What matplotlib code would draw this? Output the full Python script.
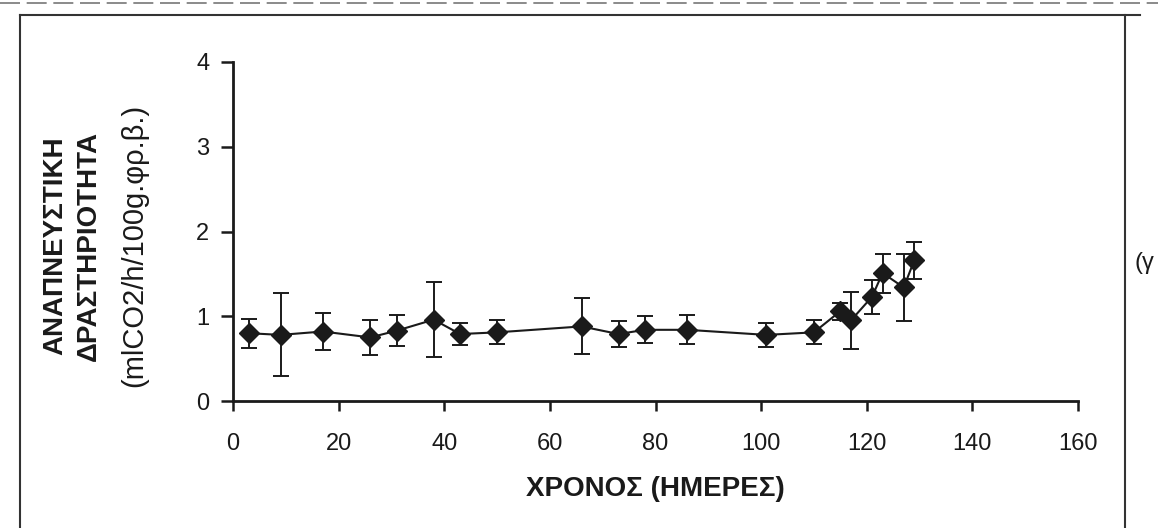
"""
Respiration activity vs time, error-bar chart
"""
import matplotlib
matplotlib.use('Agg')
import matplotlib.pyplot as plt
from matplotlib.lines import Line2D

# days of storage
days = [3, 9, 17, 26, 31, 38, 43, 50, 66, 73, 78, 86, 101, 110,
        115, 117, 121, 123, 127, 129]
# respiration activity (ml CO2/h/100g)
activity = [0.80, 0.78, 0.82, 0.75, 0.83, 0.96, 0.79, 0.81, 0.88, 0.79,
            0.84, 0.84, 0.78, 0.81, 1.06, 0.95, 1.23, 1.51, 1.34, 1.66]
# standard deviation
error = [0.17, 0.49, 0.22, 0.21, 0.18, 0.44, 0.13, 0.14, 0.33, 0.15,
         0.16, 0.17, 0.14, 0.14, 0.10, 0.34, 0.20, 0.23, 0.40, 0.22]

x_ticks = [0, 20, 40, 60, 80, 100, 120, 140, 160]
y_ticks = [0, 1, 2, 3, 4]

x_label = 'ΧΡΟΝΟΣ (ΗΜΕΡΕΣ)'
y_label_lines = ['ΑΝΑΠΝΕΥΣΤΙΚΗ', 'ΔΡΑΣΤΗΡΙΟΤΗΤΑ', '(mlCO2/h/100g.φρ.β.)']
panel_tag = '(γ'

plt.rcParams['font.family'] = ['Liberation Sans', 'DejaVu Sans']

W, H = 1158, 528
fig = plt.figure(figsize=(W / 100, H / 100), dpi=100)
fig.patch.set_facecolor('white')

ax = fig.add_axes([233 / W, 1 - 401 / H, (1078 - 233) / W, (401 - 62) / H])
ink = '#1a1a1a'
ax.errorbar(days, activity, yerr=error, color=ink, marker='D', markersize=10,
            linewidth=1.5, elinewidth=1.4, capsize=6, capthick=1.4)

ax.set_xlim(0, 160)
ax.set_ylim(0, 4)
ax.set_xticks(x_ticks)
ax.set_yticks(y_ticks)
for side in ['top', 'right']:
    ax.spines[side].set_visible(False)
for side in ['left', 'bottom']:
    ax.spines[side].set_linewidth(2.0)
    ax.spines[side].set_color(ink)
ax.tick_params(axis='y', direction='out', length=9, width=1.8, pad=8,
               labelsize=17, colors=ink)
ax.tick_params(axis='x', direction='out', length=7, width=1.8, pad=16,
               labelsize=17, colors=ink)

ax.set_xlabel(x_label, fontsize=20, fontweight='bold', color=ink, labelpad=15)

# stacked rotated y label
fig.text(55 / W, 1 - 246 / H, y_label_lines[0], rotation=90, ha='center',
         va='center', fontsize=20, fontweight='bold', color=ink)
fig.text(89 / W, 1 - 246 / H, y_label_lines[1], rotation=90, ha='center',
         va='center', fontsize=20, fontweight='bold', color=ink)
fig.text(134 / W, 1 - 245 / H, y_label_lines[2], rotation=90, ha='center',
         va='center', fontsize=21, color=ink)

# panel tag (the scan cuts it at the page edge)
fig.text(1135 / W, 1 - 263 / H, panel_tag, ha='left', va='center',
         fontsize=17, color=ink)

# scanned page frame
frame = dict(color='#333333', linewidth=1.5, transform=fig.transFigure)
fig.add_artist(Line2D([20 / W, 20 / W], [0, 1 - 15 / H], **frame))
fig.add_artist(Line2D([20 / W, 1140 / W], [1 - 15 / H, 1 - 15 / H], **frame))
fig.add_artist(Line2D([1125 / W, 1125 / W], [0, 1 - 15 / H], **frame))
fig.add_artist(Line2D([0, 1], [1 - 3 / H, 1 - 3 / H], color='#777777',
                      linewidth=1.2, linestyle=(0, (12, 4)),
                      transform=fig.transFigure))

fig.savefig('out.png', dpi=100, facecolor='white')
